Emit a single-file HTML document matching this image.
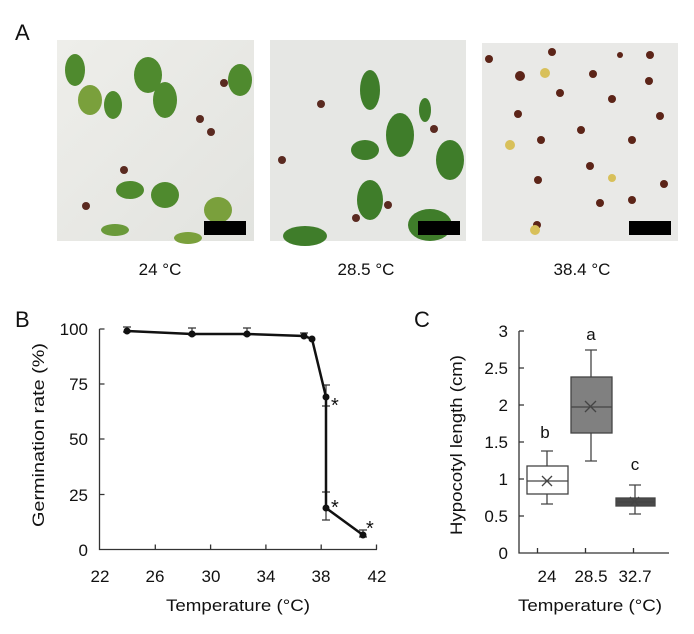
<!DOCTYPE html>
<html><head><meta charset="utf-8"><style>
body{margin:0;background:#fff;}
svg{display:block;font-family:"Liberation Sans",Arial,sans-serif;}
</style></head><body>
<svg width="694" height="634" viewBox="0 0 694 634" xmlns="http://www.w3.org/2000/svg">
<defs>
<linearGradient id="bg1" x1="0" y1="0" x2="1" y2="1"><stop offset="0" stop-color="#eeeeea"/><stop offset="1" stop-color="#e2e3df"/></linearGradient>
</defs>
<text x="15" y="40" font-size="22" fill="#111">A</text>
<!-- photo 1 -->
<g>
<rect x="57" y="40" width="197" height="201" fill="url(#bg1)"/>
<g fill="#4f8a2e">
<ellipse cx="75" cy="70" rx="10" ry="16"/><ellipse cx="90" cy="100" rx="12" ry="15" fill="#7aa03c"/>
<ellipse cx="148" cy="75" rx="14" ry="18"/><ellipse cx="165" cy="100" rx="12" ry="18"/>
<ellipse cx="113" cy="105" rx="9" ry="14"/><ellipse cx="240" cy="80" rx="12" ry="16"/>
<ellipse cx="130" cy="190" rx="14" ry="9"/><ellipse cx="165" cy="195" rx="14" ry="13"/>
<ellipse cx="218" cy="210" rx="14" ry="13" fill="#7aa03c"/><ellipse cx="188" cy="238" rx="14" ry="6" fill="#7aa03c"/>
<ellipse cx="115" cy="230" rx="14" ry="6" fill="#6a9a3a"/>
</g>
<g fill="#5a2a20"><circle cx="224" cy="83" r="4"/><circle cx="200" cy="119" r="4"/><circle cx="211" cy="132" r="4"/><circle cx="124" cy="170" r="4"/><circle cx="86" cy="206" r="4"/></g>
<rect x="204" y="221" width="42" height="14" fill="#000"/>
</g>
<!-- photo 2 -->
<g>
<rect x="270" y="40" width="196" height="201" fill="#e6e7e4"/>
<g fill="#3f7d2a">
<ellipse cx="370" cy="90" rx="10" ry="20"/><ellipse cx="400" cy="135" rx="14" ry="22"/>
<ellipse cx="365" cy="150" rx="14" ry="10"/><ellipse cx="370" cy="200" rx="13" ry="20"/>
<ellipse cx="450" cy="160" rx="14" ry="20"/><ellipse cx="430" cy="225" rx="22" ry="16"/>
<ellipse cx="305" cy="236" rx="22" ry="10"/><ellipse cx="425" cy="110" rx="6" ry="12"/>
</g>
<g fill="#5a2a20"><circle cx="321" cy="104" r="4"/><circle cx="434" cy="129" r="4"/><circle cx="356" cy="218" r="4"/><circle cx="282" cy="160" r="4"/><circle cx="388" cy="205" r="4"/></g>
<rect x="418" y="221" width="42" height="14" fill="#000"/>
</g>
<!-- photo 3 -->
<g>
<rect x="482" y="43" width="196" height="198" fill="#e9e9e7"/>
<g fill="#5c2418">
<circle cx="489" cy="59" r="4"/><circle cx="552" cy="52" r="4"/><circle cx="520" cy="76" r="5"/><circle cx="593" cy="74" r="4"/><circle cx="649" cy="81" r="4"/><circle cx="620" cy="55" r="3"/><circle cx="650" cy="55" r="4"/><circle cx="560" cy="93" r="4"/><circle cx="612" cy="99" r="4"/><circle cx="518" cy="114" r="4"/><circle cx="660" cy="116" r="4"/><circle cx="581" cy="130" r="4"/><circle cx="541" cy="140" r="4"/><circle cx="632" cy="140" r="4"/><circle cx="590" cy="166" r="4"/><circle cx="538" cy="180" r="4"/><circle cx="664" cy="184" r="4"/><circle cx="632" cy="200" r="4"/><circle cx="600" cy="203" r="4"/><circle cx="537" cy="225" r="4"/>
</g>
<g fill="#d8c05a"><circle cx="510" cy="145" r="5"/><circle cx="545" cy="73" r="5"/><circle cx="612" cy="178" r="4"/><circle cx="535" cy="230" r="5"/></g>
<rect x="629" y="221" width="42" height="14" fill="#000"/>
</g>
<g font-size="17" fill="#111" text-anchor="middle">
<text x="160" y="275">24 °C</text><text x="366" y="275">28.5 °C</text><text x="582" y="275">38.4 °C</text>
</g>

<!-- Panel B -->
<text x="15" y="327" font-size="22" fill="#111">B</text>
<g stroke="#333" stroke-width="1.3" fill="none">
<path d="M99.5 329 V549.5 H377"/>
<path d="M155.3 549.5v-5M210.6 549.5v-5M265.9 549.5v-5M321.2 549.5v-5M376.5 549.5v-5"/>
<path d="M99.5 329h5M99.5 384h5M99.5 439h5M99.5 494.5h5"/>
</g>
<g font-size="17" fill="#111" text-anchor="end">
<text x="88" y="335">100</text><text x="88" y="390">75</text><text x="88" y="445">50</text><text x="88" y="501">25</text><text x="88" y="556">0</text>
</g>
<g font-size="17" fill="#111" text-anchor="middle">
<text x="100" y="582">22</text><text x="155" y="582">26</text><text x="211" y="582">30</text><text x="266" y="582">34</text><text x="321" y="582">38</text><text x="377" y="582">42</text>
<text x="238" y="611" textLength="144" lengthAdjust="spacingAndGlyphs">Temperature (°C)</text>
</g>
<text transform="translate(44,435) rotate(-90)" font-size="17" fill="#111" text-anchor="middle" textLength="184" lengthAdjust="spacingAndGlyphs">Germination rate (%)</text>
<g stroke="#333" stroke-width="1.2">
<path d="M127 327v5M123 327h8M123 332h8"/>
<path d="M192 328v7M188 328h8M188 335h8"/>
<path d="M247 328v7M243 328h8M243 335h8"/>
<path d="M304 333v4M300 333h8"/>
<path d="M326 385v21M322 385h8M322 406h8"/>
<path d="M326 492v28M322 492h8M322 520h8"/>
<path d="M363 530v7M359 530h8M359 537h8"/>
</g>
<polyline points="127,331 192,334 247,334 304,336 312,339 326,397 326,508 363,535" fill="none" stroke="#111" stroke-width="2.5"/>
<g fill="#111"><circle cx="127" cy="331" r="3.5"/><circle cx="192" cy="334" r="3.5"/><circle cx="247" cy="334" r="3.5"/><circle cx="304" cy="336" r="3.5"/><circle cx="312" cy="339" r="3.5"/><circle cx="326" cy="397" r="3.5"/><circle cx="326" cy="508" r="3.5"/><circle cx="363" cy="535" r="3.5"/></g>
<g font-size="20" fill="#111"><text x="331" y="412">*</text><text x="331" y="514">*</text><text x="366" y="535">*</text></g>

<!-- Panel C -->
<text x="414" y="327" font-size="22" fill="#111">C</text>
<g stroke="#333" stroke-width="1.3" fill="none">
<path d="M519 331 V553 H669"/>
<path d="M519 331h5M519 368h5M519 405h5M519 442h5M519 479h5M519 516h5"/>
<path d="M537.5 553v-5M585.5 553v-5M633.5 553v-5"/>
</g>
<g font-size="17" fill="#111" text-anchor="end">
<text x="508" y="337">3</text><text x="508" y="374">2.5</text><text x="508" y="411">2</text><text x="508" y="448">1.5</text><text x="508" y="485">1</text><text x="508" y="522">0.5</text><text x="508" y="559">0</text>
</g>
<g font-size="17" fill="#111" text-anchor="middle">
<text x="547" y="582">24</text><text x="591" y="582">28.5</text><text x="635" y="582">32.7</text>
<text x="590" y="611" textLength="144" lengthAdjust="spacingAndGlyphs">Temperature (°C)</text>
<text x="545" y="438" font-size="17">b</text><text x="591" y="340" font-size="17">a</text><text x="635" y="470" font-size="17">c</text>
</g>
<text transform="translate(462,445) rotate(-90)" font-size="17" fill="#111" text-anchor="middle" textLength="180" lengthAdjust="spacingAndGlyphs">Hypocotyl length (cm)</text>
<g stroke="#444" stroke-width="1.3">
<path d="M547 451v15M541 451h12M547 494v10M541 504h12"/>
<rect x="527" y="466" width="41" height="28" fill="#fff"/>
<path d="M527 481h41M542 476l10 10M552 476l-10 10"/>
<path d="M591 350v27M585 350h12M591 433v28M585 461h12"/>
<rect x="571" y="377" width="41" height="56" fill="#808080"/>
<path d="M571 407h41M585 401l11 11M596 401l-11 11"/>
<path d="M635 485v13M629 485h12M635 504v10M629 514h12"/>
<rect x="616" y="498" width="39" height="8" fill="#4a4a4a"/>
<path d="M616 502h39M630 497l9 9M639 497l-9 9"/>
</g>
</svg>
</body></html>
